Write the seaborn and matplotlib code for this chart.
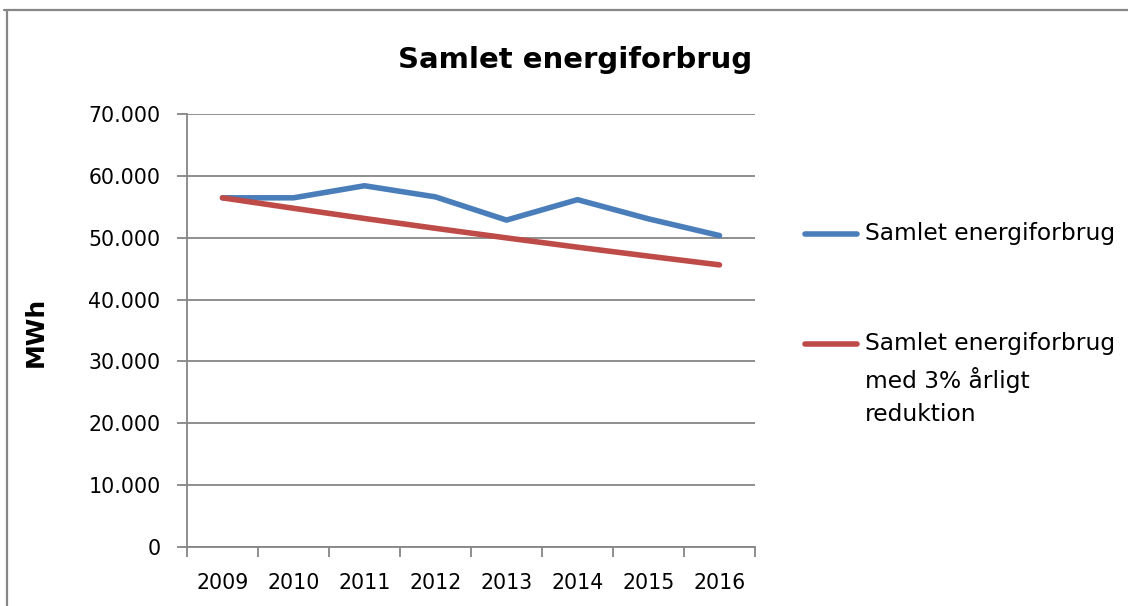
import matplotlib
matplotlib.use("Agg")
import matplotlib.pyplot as plt
import seaborn as sns
import pandas as pd
from matplotlib.lines import Line2D
from matplotlib.ticker import FuncFormatter, FixedLocator

years = ["2009", "2010", "2011", "2012", "2013", "2014", "2015", "2016"]
actual = [56450, 56450, 58400, 56600, 52850, 56150, 53050, 50350]
target = [56450, 54760, 53110, 51520, 49970, 48470, 47020, 45610]
series_names = ["Samlet energiforbrug", "Samlet energiforbrug\nmed 3% årligt\nreduktion"]
colors = ["#4A7EBB", "#BE4B48"]
y_ticks = [0, 10000, 20000, 30000, 40000, 50000, 60000, 70000]

sns.set_theme(style="white")
plt.rcParams['font.family'] = ['DejaVu Sans']
plt.rcParams['text.color'] = 'black'
plt.rcParams['xtick.color'] = 'black'
plt.rcParams['ytick.color'] = 'black'
plt.rcParams['axes.labelcolor'] = 'black'

df = pd.DataFrame({
    "pos": list(range(len(years))) * 2,
    "value": actual + target,
    "series": [series_names[0]] * len(years) + [series_names[1]] * len(years),
})

fig = plt.figure(figsize=(11.28, 6.06), dpi=100)
ax = fig.add_axes([187/1128, 1-547/606, (755-187)/1128, (547-114)/606])

sns.lineplot(data=df, x="pos", y="value", hue="series", palette=colors,
             linewidth=4, ax=ax, legend=False, sort=False)
for ln in ax.lines:
    ln.set_solid_capstyle("round")
    ln.set_solid_joinstyle("round")

gray = "#868686"
ax.set_xlim(-0.5, len(years) - 0.5)
ax.set_ylim(0, 70000)
ax.set_yticks(y_ticks)
ax.yaxis.set_major_formatter(FuncFormatter(lambda v, p: "0" if v == 0 else f"{int(v):,}".replace(",", ".")))
ax.grid(axis="y", color=gray, linewidth=1.3)
ax.set_axisbelow(True)
ax.set_xticks(range(len(years)))
ax.set_xticklabels(years)
ax.xaxis.set_minor_locator(FixedLocator([i - 0.5 for i in range(len(years) + 1)]))
ax.tick_params(axis="x", which="major", length=0, labelsize=14.8, pad=19, labelcolor="black")
ax.tick_params(axis="x", which="minor", length=7, width=1.3, color=gray, direction="out", bottom=True)
ax.tick_params(axis="y", which="major", length=7, width=1.3, color=gray, direction="out", left=True,
               labelsize=14.8, pad=12, labelcolor="black")
for s in ["top", "right"]:
    ax.spines[s].set_visible(False)
for s in ["left", "bottom"]:
    ax.spines[s].set_color(gray)
    ax.spines[s].set_linewidth(1.3)
ax.set_xlabel("")
ax.set_ylabel("MWh", fontsize=18, fontweight="bold", color="black")
ax.yaxis.set_label_coords(48/1128, 1-332/606, transform=fig.transFigure)

fig.text(575/1128, 1-60/606, "Samlet energiforbrug", ha="center", va="center",
         fontsize=21, fontweight="bold", color="black")

# legend
leg_y = [234, 344]
for c, name, yy in zip(colors, series_names, leg_y):
    fig.add_artist(Line2D([805/1128, 857/1128], [1-yy/606, 1-yy/606], color=c,
                          linewidth=4, solid_capstyle="round", transform=fig.transFigure))
    fig.text(865/1128, 1-(yy-12)/606, name, ha="left", va="top", fontsize=16.8,
             linespacing=1.57, color="black")

# chart border
fig.add_artist(Line2D([4/1128, 1], [1-10/606, 1-10/606], color="#878787", linewidth=1.6,
                      transform=fig.transFigure))
fig.add_artist(Line2D([7/1128, 7/1128], [0, 1-10/606], color="#878787", linewidth=1.6,
                      transform=fig.transFigure))

fig.savefig("out.png", dpi=100)
